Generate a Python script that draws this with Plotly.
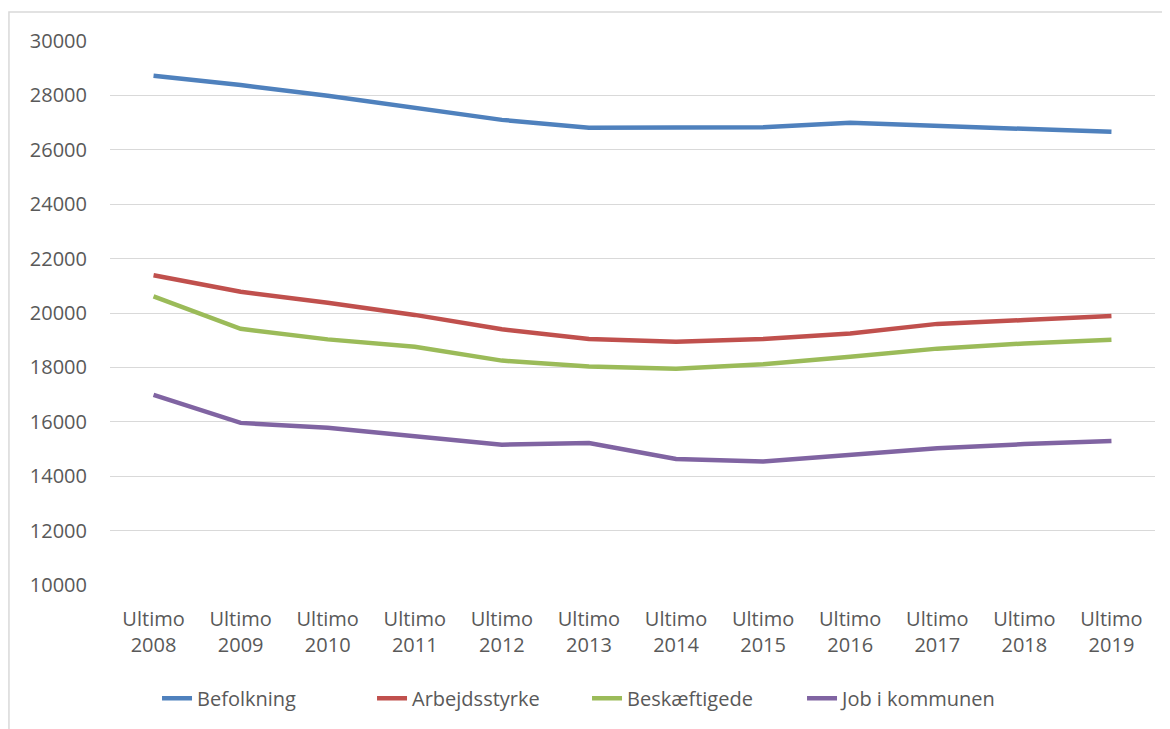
import plotly.graph_objects as go

categories = ["Ultimo<br>2008", "Ultimo<br>2009", "Ultimo<br>2010", "Ultimo<br>2011",
              "Ultimo<br>2012", "Ultimo<br>2013", "Ultimo<br>2014", "Ultimo<br>2015",
              "Ultimo<br>2016", "Ultimo<br>2017", "Ultimo<br>2018", "Ultimo<br>2019"]

befolkning = [28720, 28380, 27990, 27530, 27100, 26810, 26810, 26830, 26990, 26890, 26790, 26660]
arbejdsstyrke = [21390, 20780, 20380, 19930, 19400, 19040, 18940, 19040, 19250, 19600, 19740, 19890]
beskaeftigede = [20610, 19420, 19030, 18760, 18250, 18030, 17950, 18120, 18390, 18690, 18880, 19020]
job_i_kommunen = [16990, 15960, 15780, 15460, 15160, 15220, 14630, 14540, 14790, 15030, 15180, 15290]

y_ticks = [10000, 12000, 14000, 16000, 18000, 20000, 22000, 24000, 26000, 28000, 30000]

series = [
    ("Befolkning", befolkning, "#4F81BD"),
    ("Arbejdsstyrke", arbejdsstyrke, "#C0504D"),
    ("Beskæftigede", beskaeftigede, "#9BBB59"),
    ("Job i kommunen", job_i_kommunen, "#8064A2"),
]

fig = go.Figure()
for name, vals, color in series:
    fig.add_trace(go.Scatter(
        x=categories, y=vals, name=name, mode="lines",
        line=dict(color=color, width=4.5),
    ))

font_family = "Open Sans, Lato, sans-serif"
fig.update_layout(
    width=1162, height=721,
    margin=dict(l=102, r=15, t=33, b=144, autoexpand=False),
    paper_bgcolor="white", plot_bgcolor="white",
    font=dict(family=font_family, size=20, color="#595959"),
    showlegend=True,
    legend=dict(
        orientation="h", x=0.045, xanchor="left", y=-0.208, yanchor="middle",
        font=dict(family=font_family, size=20, color="#595959"),
        entrywidth=170, entrywidthmode="pixels", tracegroupgap=0,
    ),
    xaxis=dict(
        type="category", range=[-0.5, 11.5], showgrid=False, zeroline=False, showline=False,
        ticks="", ticklabelstandoff=20, tickfont=dict(size=20, color="#595959"),
        automargin=False,
    ),
    yaxis=dict(
        range=[10000, 30000], tickvals=y_ticks, ticktext=[str(v) for v in y_ticks],
        showgrid=True, gridcolor="#D9D9D9", gridwidth=1.3, zeroline=False,
        showline=False, ticks="", ticklabelstandoff=22, automargin=False,
        tickfont=dict(size=20, color="#595959"),
    ),
    shapes=[dict(
        type="rect", xref="paper", yref="paper",
        x0=-0.0967, x1=1.1, y0=-0.4, y1=1.0533,
        line=dict(color="#D9D9D9", width=1.5), fillcolor="rgba(0,0,0,0)", layer="below",
    )],
)

fig.write_html("out.html")
